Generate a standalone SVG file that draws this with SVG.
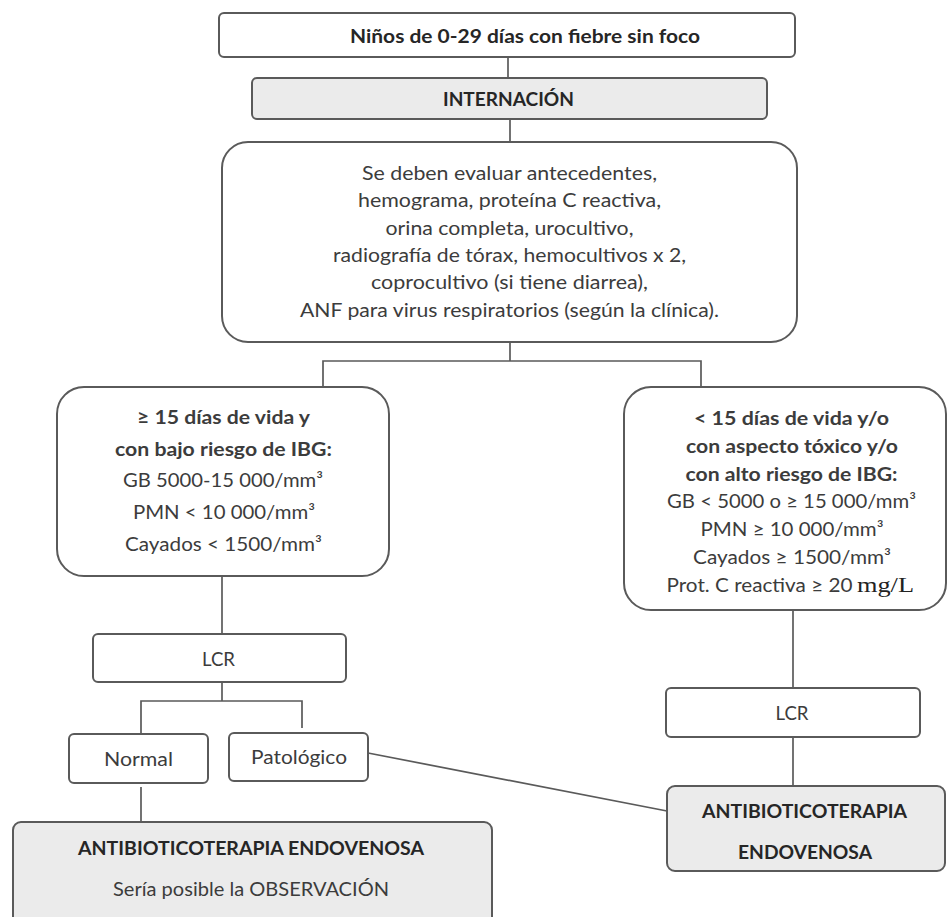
<svg xmlns="http://www.w3.org/2000/svg" width="948" height="917" viewBox="0 0 948 917">
<style>
.box{fill:#ffffff;stroke:#5a5a5a;stroke-width:2}
.gbox{fill:#ebebeb;stroke:#5a5a5a;stroke-width:2}
.con{fill:none;stroke:#5a5a5a;stroke-width:1.7}
text{font-family:Lato,"Open Sans","Liberation Sans",sans-serif;text-anchor:middle;fill:#3c3c3c;font-size:19.5px}
.b{font-weight:bold;fill:#262626}
.bg{font-weight:bold;fill:#3c3c3c}
.serif{font-family:"Liberation Serif","DejaVu Serif",serif;text-anchor:start;fill:#222;font-size:20px}
</style>
<rect width="948" height="917" fill="#ffffff"/>
<g id="connectors">
<line class="con" x1="508" y1="57" x2="508" y2="78"/>
<line class="con" x1="510" y1="119" x2="510" y2="142"/>
<polyline class="con" points="510,342 510,361"/>
<polyline class="con" points="323,387 323,361 701,361 701,387"/>
<line class="con" x1="222" y1="576" x2="222" y2="634"/>
<line class="con" x1="222" y1="682" x2="222" y2="701"/>
<polyline class="con" points="141,734 141,701 302,701 302,728"/>
<line class="con" x1="141" y1="787" x2="141" y2="822"/>
<line class="con" x1="368" y1="753" x2="667" y2="811"/>
<line class="con" x1="793" y1="610" x2="793" y2="688"/>
<line class="con" x1="793" y1="737" x2="793" y2="786"/>
</g>
<g id="n_top">
<rect class="box" x="219" y="13" width="576" height="44" rx="5"/>
<text class="b" x="525" y="43" font-size="20" textLength="350" lengthAdjust="spacingAndGlyphs">Niños de 0-29 días con fiebre sin foco</text>
</g>
<g id="n_internacion">
<rect class="gbox" x="252" y="78" width="515" height="41" rx="5"/>
<text class="b" x="508.5" y="106" font-size="20" textLength="131" lengthAdjust="spacingAndGlyphs">INTERNACIÓN</text>
</g>
<g id="n_evaluar">
<rect class="box" x="222" y="142" width="575" height="200" rx="26"/>
<text x="509.5" y="180" textLength="295" lengthAdjust="spacingAndGlyphs">Se deben evaluar antecedentes,</text>
<text x="509.5" y="207.3" textLength="303" lengthAdjust="spacingAndGlyphs">hemograma, proteína C reactiva,</text>
<text x="509.5" y="234.7" textLength="248" lengthAdjust="spacingAndGlyphs">orina completa, urocultivo,</text>
<text x="509.5" y="262" textLength="353" lengthAdjust="spacingAndGlyphs">radiografía de tórax, hemocultivos x 2,</text>
<text x="509.5" y="289.3" textLength="277" lengthAdjust="spacingAndGlyphs">coprocultivo (si tiene diarrea),</text>
<text x="509.5" y="316.7" textLength="419" lengthAdjust="spacingAndGlyphs">ANF para virus respiratorios (según la clínica).</text>
</g>
<g id="n_bajo_riesgo">
<rect class="box" x="57" y="387" width="332" height="189" rx="27"/>
<text class="bg" x="223.5" y="424" font-size="20" textLength="173" lengthAdjust="spacingAndGlyphs">≥ 15 días de vida y</text>
<text class="bg" x="223.5" y="455.7" font-size="20" textLength="217" lengthAdjust="spacingAndGlyphs">con bajo riesgo de IBG:</text>
<text x="223" y="487.3" font-size="20" textLength="200" lengthAdjust="spacingAndGlyphs">GB 5000-15 000/mm³</text>
<text x="224" y="519" font-size="20" textLength="182" lengthAdjust="spacingAndGlyphs">PMN &lt; 10 000/mm³</text>
<text x="223.5" y="550.7" font-size="20" textLength="197" lengthAdjust="spacingAndGlyphs">Cayados &lt; 1500/mm³</text>
</g>
<g id="n_alto_riesgo">
<rect class="box" x="624" y="387" width="322" height="223" rx="27"/>
<text class="bg" x="791.5" y="425" textLength="195" lengthAdjust="spacingAndGlyphs">&lt; 15 días de vida y/o</text>
<text class="bg" x="792" y="452.8" textLength="212" lengthAdjust="spacingAndGlyphs">con aspecto tóxico y/o</text>
<text class="bg" x="791.5" y="480.6" textLength="212" lengthAdjust="spacingAndGlyphs">con alto riesgo de IBG:</text>
<text x="791.5" y="508.4" textLength="249" lengthAdjust="spacingAndGlyphs">GB &lt; 5000 o ≥ 15 000/mm³</text>
<text x="792" y="536.1" textLength="183" lengthAdjust="spacingAndGlyphs">PMN ≥ 10 000/mm³</text>
<text x="792" y="563.9" textLength="198" lengthAdjust="spacingAndGlyphs">Cayados ≥ 1500/mm³</text>
<text x="759.5" y="591.7" textLength="186" lengthAdjust="spacingAndGlyphs">Prot. C reactiva ≥ 20</text>
<text class="serif" x="857" y="591.7" textLength="57" lengthAdjust="spacingAndGlyphs">mg/L</text>
</g>
<g id="n_lcr_izq">
<rect class="box" x="93" y="634" width="253" height="48" rx="5"/>
<text x="218.5" y="665.7" font-size="20" textLength="33" lengthAdjust="spacingAndGlyphs">LCR</text>
</g>
<g id="n_normal">
<rect class="box" x="69" y="734" width="139" height="49" rx="5"/>
<text x="138.5" y="765.7" font-size="20" textLength="69" lengthAdjust="spacingAndGlyphs">Normal</text>
</g>
<g id="n_patologico">
<rect class="box" x="229" y="733" width="139" height="48" rx="5"/>
<text x="299" y="764" font-size="20" textLength="96" lengthAdjust="spacingAndGlyphs">Patológico</text>
</g>
<g id="n_atb_observacion">
<rect class="gbox" x="13" y="822" width="479" height="110" rx="8"/>
<text class="b" x="251" y="855" font-size="20" textLength="346" lengthAdjust="spacingAndGlyphs">ANTIBIOTICOTERAPIA ENDOVENOSA</text>
<text x="251" y="896" font-size="20" textLength="276" lengthAdjust="spacingAndGlyphs">Sería posible la OBSERVACIÓN</text>
</g>
<g id="n_lcr_der">
<rect class="box" x="666" y="688" width="254" height="49" rx="5"/>
<text x="792" y="720" font-size="20" textLength="33" lengthAdjust="spacingAndGlyphs">LCR</text>
</g>
<g id="n_atb_der">
<rect class="gbox" x="667" y="786" width="278" height="85" rx="8"/>
<text class="b" x="804.5" y="818.3" font-size="20" textLength="205" lengthAdjust="spacingAndGlyphs">ANTIBIOTICOTERAPIA</text>
<text class="b" x="805" y="859.3" font-size="20" textLength="134" lengthAdjust="spacingAndGlyphs">ENDOVENOSA</text>
</g>
</svg>
